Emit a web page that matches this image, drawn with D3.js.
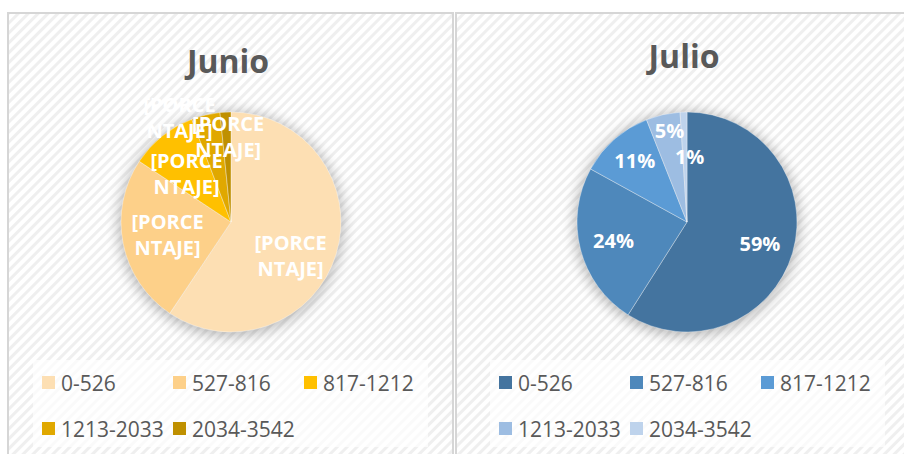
<!DOCTYPE html>
<html>
<head>
<meta charset="utf-8">
<script src="https://cdn.jsdelivr.net/npm/d3@7"></script>
<style>
  html, body { margin: 0; padding: 0; background: #fff; }
  svg { display: block; font-family: 'Open Sans', 'Noto Sans', sans-serif; }
</style>
</head>
<body>
<div id="chart"></div>
<script>
// rangos de consumo y porcentajes por mes
const categories = ['0-526', '527-816', '817-1212', '1213-2033', '2034-3542'];
const junioValues = [59.4, 24.9, 9.9, 4.2, 1.6];
const julioValues = [59, 24, 11, 5, 1];
const junioLabel = '[PORCENTAJE]';

const junioColors = ['#fddfb3', '#fdd089', '#ffc000', '#e0a800', '#bf9000'];
const julioColors = ['#44749f', '#4e88bb', '#5b9bd5', '#9dbde2', '#bed3ec'];

// excel's "best fit" moves a few labels around, these are those nudges
const junioNudge = [[-13, 11], [11, -2], [3, 11], [-34, -31], [1, -10]];
const julioNudge = [[0, 0], [0, 0], [-2, -5], [-1, -17], [5, 10]];

const width = 904, height = 454;

const svg = d3.select('#chart')
  .append('svg')
  .attr('width', width)
  .attr('height', height);

const defs = svg.append('defs');

const stripes = defs.append('pattern')
  .attr('id', 'stripes')
  .attr('patternUnits', 'userSpaceOnUse')
  .attr('width', 7)
  .attr('height', 7)
  .attr('patternTransform', 'rotate(45)');
stripes.append('rect').attr('width', 7).attr('height', 7).attr('fill', '#fff');
stripes.append('rect').attr('width', 3).attr('height', 7).attr('fill', '#efefef');

const shadow = defs.append('filter')
  .attr('id', 'halo')
  .attr('x', '-30%').attr('y', '-30%')
  .attr('width', '160%').attr('height', '160%');
shadow.append('feGaussianBlur').attr('stdDeviation', 7);

function drawPie(opts) {
  const g = svg.append('g');

  g.append('rect')
    .attr('x', opts.x)
    .attr('y', 13)
    .attr('width', opts.w)
    .attr('height', height)
    .attr('fill', 'url(#stripes)')
    .attr('stroke', '#d6d6d6')
    .attr('stroke-width', 2);

  g.append('text')
    .attr('x', opts.cx - 3)
    .attr('y', opts.titleY)
    .attr('text-anchor', 'middle')
    .attr('font-size', 32)
    .attr('font-weight', 700)
    .attr('fill', '#595959')
    .text(opts.title);

  const r = 110;
  const pie = d3.pie().sort(null).value((d) => d);
  const arc = d3.arc().innerRadius(0).outerRadius(r);
  const labelArc = d3.arc().innerRadius(r * 0.69).outerRadius(r * 0.69);
  const arcs = pie(opts.values);

  const plot = g.append('g').attr('transform', `translate(${opts.cx},${opts.cy})`);

  plot.append('circle')
    .attr('r', r + 2)
    .attr('cy', 2)
    .attr('fill', '#000')
    .attr('opacity', 0.28)
    .attr('filter', 'url(#halo)');

  plot.selectAll('path')
    .data(arcs)
    .enter()
    .append('path')
    .attr('d', arc)
    .attr('fill', (_d, i) => opts.colors[i])
    .attr('stroke', '#fff')
    .attr('stroke-opacity', 0.45)
    .attr('stroke-width', 0.8);

  const total = d3.sum(opts.values);
  const labels = plot.selectAll('g.lbl')
    .data(arcs)
    .enter()
    .append('g')
    .attr('class', 'lbl')
    .attr('transform', (d, i) => {
      const [x, y] = labelArc.centroid(d);
      return `translate(${x + opts.nudge[i][0]},${y + opts.nudge[i][1]})`;
    });

  labels.each(function (d) {
    const lines = opts.label
      ? [opts.label.slice(0, 6), opts.label.slice(6)]
      : [d3.format('.0%')(d.value / total)];
    d3.select(this)
      .selectAll('text')
      .data(lines)
      .enter()
      .append('text')
      .attr('y', (_t, j) => (j - (lines.length - 1) / 2) * 26)
      .attr('text-anchor', 'middle')
      .attr('dominant-baseline', 'central')
      .attr('font-size', 20)
      .attr('font-weight', 700)
      .attr('fill', '#fff')
      .text((t) => t);
  });

  // legend
  const lg = g.append('g');
  lg.append('rect')
    .attr('x', opts.legendX - 9)
    .attr('y', 360)
    .attr('width', 395)
    .attr('height', 87)
    .attr('fill', '#fff')
    .attr('opacity', 0.7);

  const cols = [0, 131, 262];
  const items = lg.selectAll('g.item')
    .data(categories)
    .enter()
    .append('g')
    .attr('class', 'item')
    .attr('transform', (_d, i) =>
      `translate(${opts.legendX + cols[i % 3]},${383 + Math.floor(i / 3) * 46})`);

  items.append('rect')
    .attr('x', 0)
    .attr('y', -7)
    .attr('width', 13)
    .attr('height', 13)
    .attr('fill', (_d, i) => opts.colors[i]);

  items.append('text')
    .attr('x', 19)
    .attr('y', 0)
    .attr('dominant-baseline', 'central')
    .attr('font-size', 21)
    .attr('fill', '#595959')
    .text((d) => d);
}

drawPie({
  title: 'Junio', x: 8, w: 445, cx: 231, cy: 222, titleY: 73,
  values: junioValues, colors: junioColors, label: junioLabel,
  nudge: junioNudge, legendX: 42
});

drawPie({
  title: 'Julio', x: 456, w: 460, cx: 687, cy: 222, titleY: 68,
  values: julioValues, colors: julioColors, label: null,
  nudge: julioNudge, legendX: 499
});
</script>
</body>
</html>
